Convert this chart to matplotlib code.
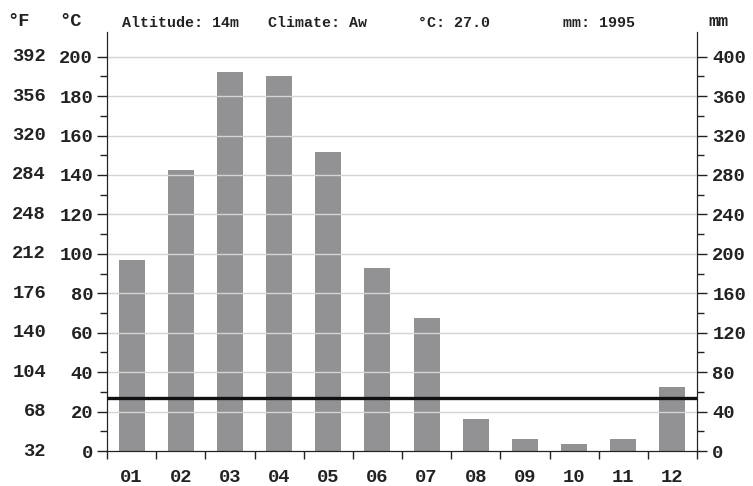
import numpy as np
import matplotlib
matplotlib.use("Agg")
import matplotlib.pyplot as plt
import matplotlib.transforms as mtransforms

# Data
months = ["01", "02", "03", "04", "05", "06", "07", "08", "09", "10", "11", "12"]
precip_mm = [194, 285, 384, 380, 303, 186, 135, 32, 12, 7, 12, 65]
temp_c = [27.0, 27.0, 27.0, 27.0, 27.0, 27.0, 27.0, 27.0, 27.0, 27.0, 27.0, 27.0]
c_ticks = [0, 20, 40, 60, 80, 100, 120, 140, 160, 180, 200]
mm_ticks = [0, 40, 80, 120, 160, 200, 240, 280, 320, 360, 400]
altitude = "14m"
climate = "Aw"

plt.rcParams['font.family'] = ['Liberation Mono', 'DejaVu Sans Mono']
plt.rcParams['font.weight'] = 'bold'

fs = 13.5
txt_col = "#222222"

fig = plt.figure(figsize=(7.53, 4.86), dpi=100)
ax = fig.add_axes([107/753, 1 - 451/486, 590/753, 419/486])
ax2 = ax.twinx()

ymax = 212.5
x = np.arange(len(months)) + 0.5

# Gridlines
for t in c_ticks[1:]:
    ax.axhline(t, color="#d4d4d4", lw=1, zorder=0)

# Bars on mm axis
ax2.bar(x, precip_mm, width=0.53, color="#929295", zorder=2)
ax2.set_ylim(0, ymax * 2)

# Temperature line across full width
xs = np.r_[0, x, len(months)]
ts = np.r_[temp_c[0], temp_c, temp_c[-1]]
ax.plot(xs, ts, color="#111111", lw=2.4, zorder=5)
ax.set_zorder(ax2.get_zorder() + 1)
ax.patch.set_visible(False)

ax.set_xlim(0, len(months))
ax.set_ylim(0, ymax)

# Axes styling
for a in (ax, ax2):
    a.spines['top'].set_visible(False)
    a.spines['left'].set_color(txt_col)
    a.spines['right'].set_color(txt_col)
    a.spines['bottom'].set_color(txt_col)

ax.set_yticks(c_ticks)
ax.set_yticks(np.arange(10, 200, 20), minor=True)
ax.set_yticklabels([str(t) for t in c_ticks], fontsize=fs, fontweight='bold', color=txt_col)
ax.tick_params(axis='y', which='major', length=7, width=1, pad=3, color=txt_col)
ax.tick_params(axis='y', which='minor', length=5, width=1, color=txt_col)

ax.set_xticks(np.arange(0, len(months) + 1))
ax.set_xticklabels([])
ax.set_xticks(x, minor=True)
ax.set_xticklabels(months, minor=True, fontsize=fs, fontweight='bold', color=txt_col)
ax.tick_params(axis='x', which='major', length=6, width=1, color=txt_col)
ax.tick_params(axis='x', which='minor', length=0, pad=13)

ax2.set_yticks(mm_ticks)
ax2.set_yticks(np.arange(20, 400, 40), minor=True)
ax2.set_yticklabels([str(t) for t in mm_ticks], fontsize=fs, fontweight='bold', color=txt_col)
ax2.tick_params(axis='y', which='major', length=7, width=1, pad=4, color=txt_col)
ax2.tick_params(axis='y', which='minor', length=5, width=1, color=txt_col)

# Fahrenheit labels
trans = mtransforms.blended_transform_factory(fig.transFigure, ax.transData)
for t in c_ticks:
    ax.text(46/753, t, str(int(round(t * 1.8 + 32))), transform=trans, ha='right', va='center',
            fontsize=fs, fontweight='bold', color=txt_col)

# Header texts
fig.text(7/753, 1 - 21/486, "°F", fontsize=fs, fontweight='bold', color=txt_col, va='center')
fig.text(59/753, 1 - 21/486, "°C", fontsize=fs, fontweight='bold', color=txt_col, va='center')
fig.text(708/753, 1 - 21/486, "mm", fontsize=12, fontweight='bold', color=txt_col, va='center')
hy = 1 - 23/486
hs = 10.8
fig.text(122/753, hy, f"Altitude: {altitude}", fontsize=hs, fontweight='bold', color=txt_col, va='center')
fig.text(268/753, hy, f"Climate: {climate}", fontsize=hs, fontweight='bold', color=txt_col, va='center')
fig.text(418/753, hy, f"°C: {np.mean(temp_c):.1f}", fontsize=hs, fontweight='bold', color=txt_col, va='center')
fig.text(563/753, hy, f"mm: {sum(precip_mm)}", fontsize=hs, fontweight='bold', color=txt_col, va='center')

fig.savefig("out.png", dpi=100)
plt.close(fig)
